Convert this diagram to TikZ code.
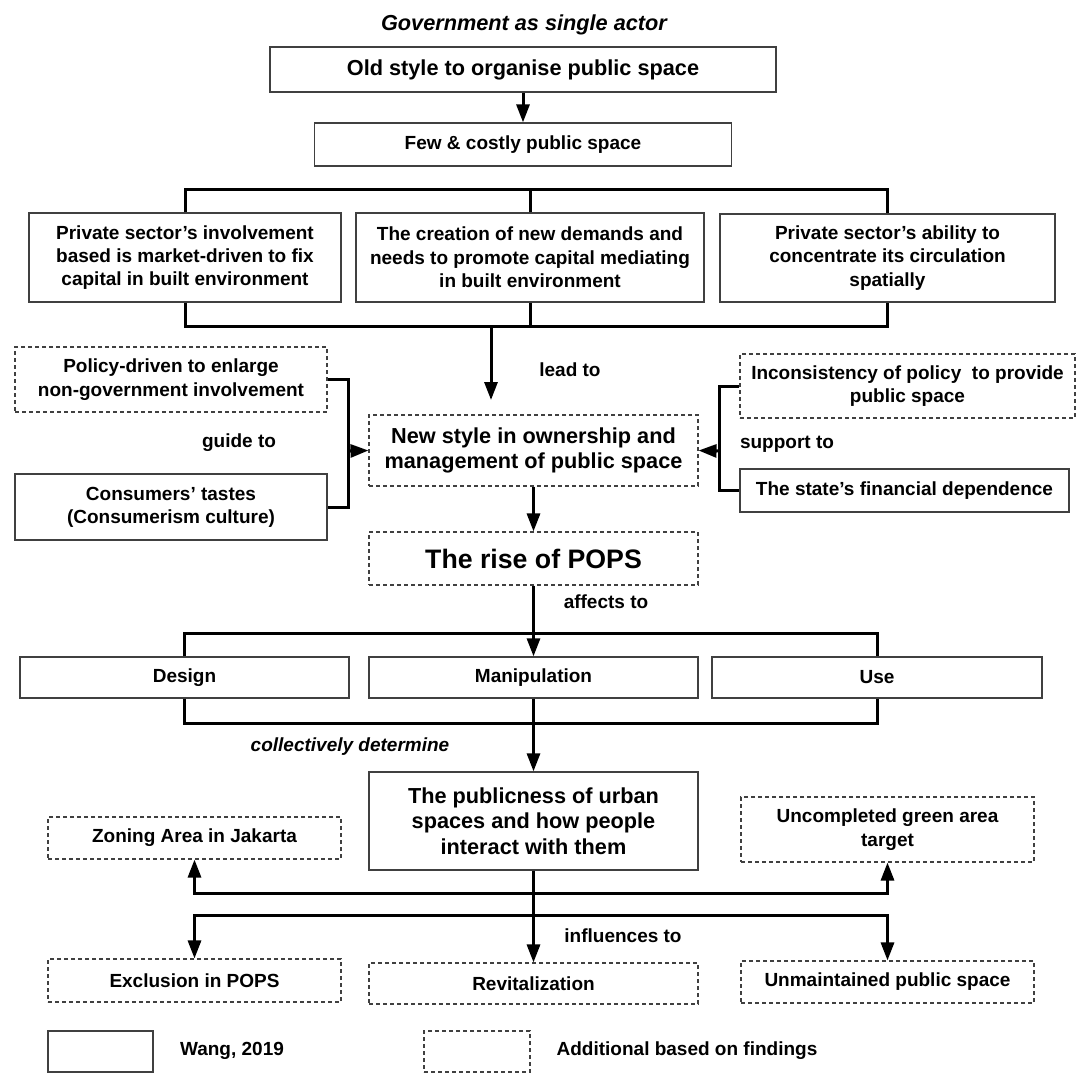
\documentclass[tikz,border=0pt]{standalone}
\usepackage{fontspec}
\setmainfont{Liberation Sans}
\usetikzlibrary{arrows.meta}
\tikzset{
  sbox/.style={draw=black!75, line width=1.3pt, align=center, inner sep=0pt,
               font=\bfseries\fontsize{19}{23.3}\selectfont},
  dbox/.style={sbox, line width=1.1pt, dash pattern=on 4pt off 3pt},
  bigtext/.style={font=\bfseries\fontsize{21.7}{25.7}\selectfont},
  hugetext/.style={font=\bfseries\fontsize{26.7}{30}\selectfont},
  lab/.style={inner sep=0pt, font=\bfseries\fontsize{19}{23.3}\selectfont},
  link/.style={line width=3pt},
  arr/.style={link, -{Triangle[length=18pt,width=13pt]}},
  arrboth/.style={link, {Triangle[length=18pt,width=13pt]}-{Triangle[length=18pt,width=13pt]}},
}

\begin{document}
\begin{tikzpicture}[x=1pt, y=-1pt]
\useasboundingbox (0,0) rectangle (1090,1090);

% top part
\node[lab, font=\bfseries\itshape\fontsize{21.7}{26}\selectfont] (title) at (524,25)
  {Government as single actor};
\node[sbox, bigtext, minimum width=506, minimum height=45] (old) at (523,69.5)
  {Old style to organise public space};
\node[sbox, minimum width=417, minimum height=43] (few) at (523,144.5)
  {Few \& costly public space};

\node[sbox, minimum width=312, minimum height=89] (involve) at (185,257.5)
  {Private sector’s involvement\\based is market-driven to fix\\capital in built environment};
\node[sbox, minimum width=348, minimum height=89] (demand) at (530,257.5)
  {The creation of new demands and\\needs to promote capital mediating\\in built environment};
\node[sbox, minimum width=335, minimum height=88] (ability) at (887.5,258)
  {Private sector’s ability to\\concentrate its circulation\\spatially};

\coordinate (topbar) at (0,189);
\coordinate (botbar) at (0,326);
\coordinate (leadtop) at (491,326);
\coordinate (leadend) at (491,400);

% middle part
\node[dbox, minimum width=312, minimum height=65] (policy) at (171,379.5)
  {Policy-driven to enlarge\\non-government involvement};
\node[sbox, minimum width=312, minimum height=66] (taste) at (171,507)
  {Consumers’ tastes\\(Consumerism culture)};
\node[dbox, bigtext, minimum width=329, minimum height=71] (newstyle) at (533.5,450.5)
  {New style in ownership and\\management of public space};
\node[dbox, minimum width=335, minimum height=64] (inconsist) at (907.5,386)
  {Inconsistency of policy\ \ to provide\\public space};
\node[sbox, minimum width=329, minimum height=43] (finance) at (904.5,490.5)
  {The state’s financial dependence};
\node[dbox, hugetext, minimum width=329, minimum height=53] (rise) at (533.5,558.5)
  {The rise of POPS};

\coordinate (guidept) at (348,451);
\coordinate (supportpt) at (719,451);

\node[lab] (leadlab) at (570,370) {lead to};
\node[lab] (guidelab) at (239,443) {guide to};
\node[lab] (supportlab) at (787,444) {support to};
\node[lab] (affectlab) at (606,602) {affects to};

% lower part
\node[sbox, minimum width=329, minimum height=41] (design) at (184.5,677.5) {Design};
\node[sbox, minimum width=329, minimum height=41] (manip) at (533.5,677.5) {Manipulation};
\node[sbox, minimum width=330, minimum height=41] (use) at (877,677.5) {Use};

\coordinate (affbar) at (0,633);
\coordinate (detbar) at (0,723);

\node[lab, font=\bfseries\itshape\fontsize{19}{23.3}\selectfont] (detlab) at (350,747)
  {collectively determine};
\node[sbox, bigtext, minimum width=329, minimum height=98] (publicness) at (533.5,821)
  {The publicness of urban\\spaces and how people\\interact with them};

\node[dbox, minimum width=293, minimum height=42] (zoning) at (194.5,838)
  {Zoning Area in Jakarta};
\node[dbox, minimum width=293, minimum height=65] (green) at (887.5,829.5)
  {Uncompleted green area\\target};

\coordinate (upbar) at (0,893);
\coordinate (downbar) at (0,915);

\node[lab] (inflab) at (623,936) {influences to};
\node[dbox, minimum width=293, minimum height=43] (exclusion) at (194.5,980.5)
  {Exclusion in POPS};
\node[dbox, minimum width=329, minimum height=41] (revital) at (533.5,983.5)
  {Revitalization};
\node[dbox, minimum width=293, minimum height=42] (unmaint) at (887.5,982)
  {Unmaintained public space};

% legend
\node[sbox, minimum width=105, minimum height=41] (legsolid) at (100.5,1051.5) {};
\node[lab] (legsolidlab) at (232,1051) {Wang, 2019};
\node[dbox, minimum width=106, minimum height=41] (legdash) at (477,1051.5) {};
\node[lab] (legdashlab) at (687,1051) {Additional based on findings};

% connectors
\draw[arr] (old.south) -- (few.north);
\draw[link] (involve.north) -- (involve.north |- topbar) -- (ability.north |- topbar) -- (ability.north);
\draw[link] (demand.north) -- (demand.north |- topbar);
\draw[link] (involve.south) -- (involve.south |- botbar) -- (ability.south |- botbar) -- (ability.south);
\draw[link] (demand.south) -- (demand.south |- botbar);
\draw[arr] (leadtop) -- (leadend);

\draw[link] (policy.east) -| (guidept) |- (taste.east);
\draw[arr] (guidept) -- (newstyle.west);
\draw[link] (inconsist.west) -| (supportpt) |- (finance.west);
\draw[arr] (supportpt) -- (newstyle.east);
\draw[arr] (newstyle.south) -- (rise.north);

\draw[link] (design.north) -- (design.north |- affbar) -- (use.north |- affbar) -- (use.north);
\draw[arr] (rise.south) -- (manip.north);
\draw[link] (design.south) -- (design.south |- detbar) -- (use.south |- detbar) -- (use.south);
\draw[arr] (manip.south) -- (publicness.north);

\draw[arrboth] (zoning.south) -- (zoning.south |- upbar) -- (green.south |- upbar) -- (green.south);
\draw[arrboth] (exclusion.north) -- (exclusion.north |- downbar) -- (unmaint.north |- downbar) -- (unmaint.north);
\draw[arr] (publicness.south) -- (revital.north);

\end{tikzpicture}
\end{document}
